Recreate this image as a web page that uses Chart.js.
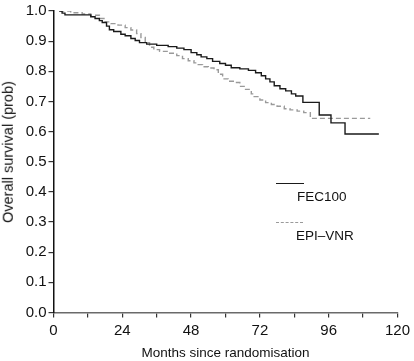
<!DOCTYPE html>
<html>
<head>
<meta charset="utf-8">
<script src="https://cdn.jsdelivr.net/npm/chart.js@4/dist/chart.umd.min.js"></script>
<style>
  html, body { margin: 0; padding: 0; background: #fff; }
  #wrap { position: relative; width: 414px; height: 361px; }
  canvas { display: block; }
  .lg { position: absolute; font-family: "Liberation Sans", Arial, sans-serif; font-size: 13.5px; color: #111; line-height: 1; white-space: nowrap; }
  .sw { position: absolute; height: 0; }
  #ytitle { position: absolute; left: 8px; top: 152px; transform: translate(-50%, -50%) rotate(-90deg); font-family: "Liberation Sans", Arial, sans-serif; font-size: 14.5px; color: #111; white-space: nowrap; line-height: 1; }
</style>
</head>
<body>
<div id="wrap">
  <canvas id="c" width="414" height="361"></canvas>
  <div id="ytitle"></div>
  <div class="sw" style="left:276px; top:183px; width:28px; border-top:1.5px solid #1a1a1a;"></div>
  <div class="lg" style="left:297px; top:190px;">FEC100</div>
  <div class="sw" style="left:276px; top:222px; width:27px; border-top:1.5px dashed #9a9a9a;"></div>
  <div class="lg" style="left:296px; top:229px;">EPI–VNR</div>
</div>
<script>
// ---- data ----
const seriesNames = ["FEC100", "EPI–VNR"];

const fecMonths = [2, 3, 4, 13, 14.5, 16, 17, 18.5, 19.5, 21, 23.5, 25, 27, 28.5, 30, 32.5, 36, 40, 43, 45.5, 48, 50, 51.5, 53.5, 55.5, 58, 60, 62, 65, 68, 70.5, 72.5, 74, 75.5, 77, 79, 81, 83, 84.5, 87, 92.7, 96.8, 101.7, 113.5];
const fecSurvival = [1.0, 0.993, 0.987, 0.981, 0.975, 0.968, 0.962, 0.95, 0.938, 0.932, 0.923, 0.918, 0.909, 0.902, 0.895, 0.89, 0.886, 0.882, 0.877, 0.872, 0.862, 0.855, 0.848, 0.842, 0.833, 0.826, 0.82, 0.812, 0.808, 0.803, 0.795, 0.785, 0.775, 0.765, 0.752, 0.742, 0.735, 0.725, 0.718, 0.697, 0.655, 0.629, 0.592, 0.592];

const epiMonths = [2, 6, 10, 13, 16, 18, 20, 22.5, 25, 27, 29, 30.5, 32, 33.5, 35, 37, 40, 43, 45, 47, 49, 50.5, 52, 54, 56, 57.5, 59, 61, 63, 65, 67, 69, 70, 72, 74, 76, 78, 80.5, 82.5, 85, 87.3, 89.6, 110.5];
const epiSurvival = [1.0, 0.994, 0.99, 0.986, 0.975, 0.964, 0.958, 0.953, 0.945, 0.937, 0.925, 0.912, 0.895, 0.88, 0.872, 0.866, 0.86, 0.852, 0.842, 0.835, 0.828, 0.822, 0.815, 0.811, 0.805, 0.79, 0.775, 0.767, 0.763, 0.75, 0.74, 0.725, 0.716, 0.705, 0.696, 0.69, 0.684, 0.676, 0.672, 0.668, 0.663, 0.644, 0.644];

const xMin = 0, xMax = 120, xStep = 12, xLabelEvery = 24;
const yMin = 0, yMax = 1, yStep = 0.1;
const xTitle = "Months since randomisation";
const yTitle = "Overall survival (prob)";

document.getElementById('ytitle').textContent = yTitle;

const toPts = (xs, ys) => xs.map((x, i) => ({ x: x, y: ys[i] }));
const FONT = '"Liberation Sans", Arial, sans-serif';

new Chart(document.getElementById('c'), {
  type: 'line',
  data: {
    datasets: [
      {
        label: seriesNames[0],
        data: toPts(fecMonths, fecSurvival),
        borderColor: '#1a1a1a',
        borderWidth: 1.4,
        stepped: true,
        pointRadius: 0,
        fill: false
      },
      {
        label: seriesNames[1],
        data: toPts(epiMonths, epiSurvival),
        borderColor: '#9a9a9a',
        borderWidth: 1.4,
        borderDash: [5, 3],
        stepped: true,
        pointRadius: 0,
        fill: false
      }
    ]
  },
  options: {
    responsive: false,
    animation: false,
    layout: { padding: { top: 9, right: 12, left: 0, bottom: 0 } },
    plugins: { legend: { display: false }, tooltip: { enabled: false } },
    scales: {
      x: {
        type: 'linear',
        min: xMin, max: xMax,
        afterFit: (s) => { s.height = 48.5; },
        border: { display: true, color: '#6a6a6a', width: 1.5 },
        grid: { drawOnChartArea: false, drawTicks: true, tickLength: 5, color: '#333', lineWidth: 1.2 },
        ticks: {
          stepSize: xStep,
          autoSkip: false,
          maxRotation: 0,
          padding: 4,
          color: '#111',
          font: { family: FONT, size: 15 },
          callback: (v) => (v % xLabelEvery === 0 ? String(v) : '')
        },
        title: { display: true, text: xTitle, color: '#111', font: { family: FONT, size: 13.5 }, padding: { top: 5, bottom: 0 } }
      },
      y: {
        type: 'linear',
        min: yMin, max: yMax,
        afterFit: (s) => { s.width = 53.5; },
        border: { display: true, color: '#111', width: 1.5 },
        grid: { drawOnChartArea: false, drawTicks: true, tickLength: 5, color: '#333', lineWidth: 1.2 },
        ticks: {
          stepSize: yStep,
          padding: 2,
          color: '#111',
          font: { family: FONT, size: 15 },
          callback: (v) => Number(v).toFixed(1)
        },
        title: { display: false }
      }
    }
  }
});
</script>
</body>
</html>
